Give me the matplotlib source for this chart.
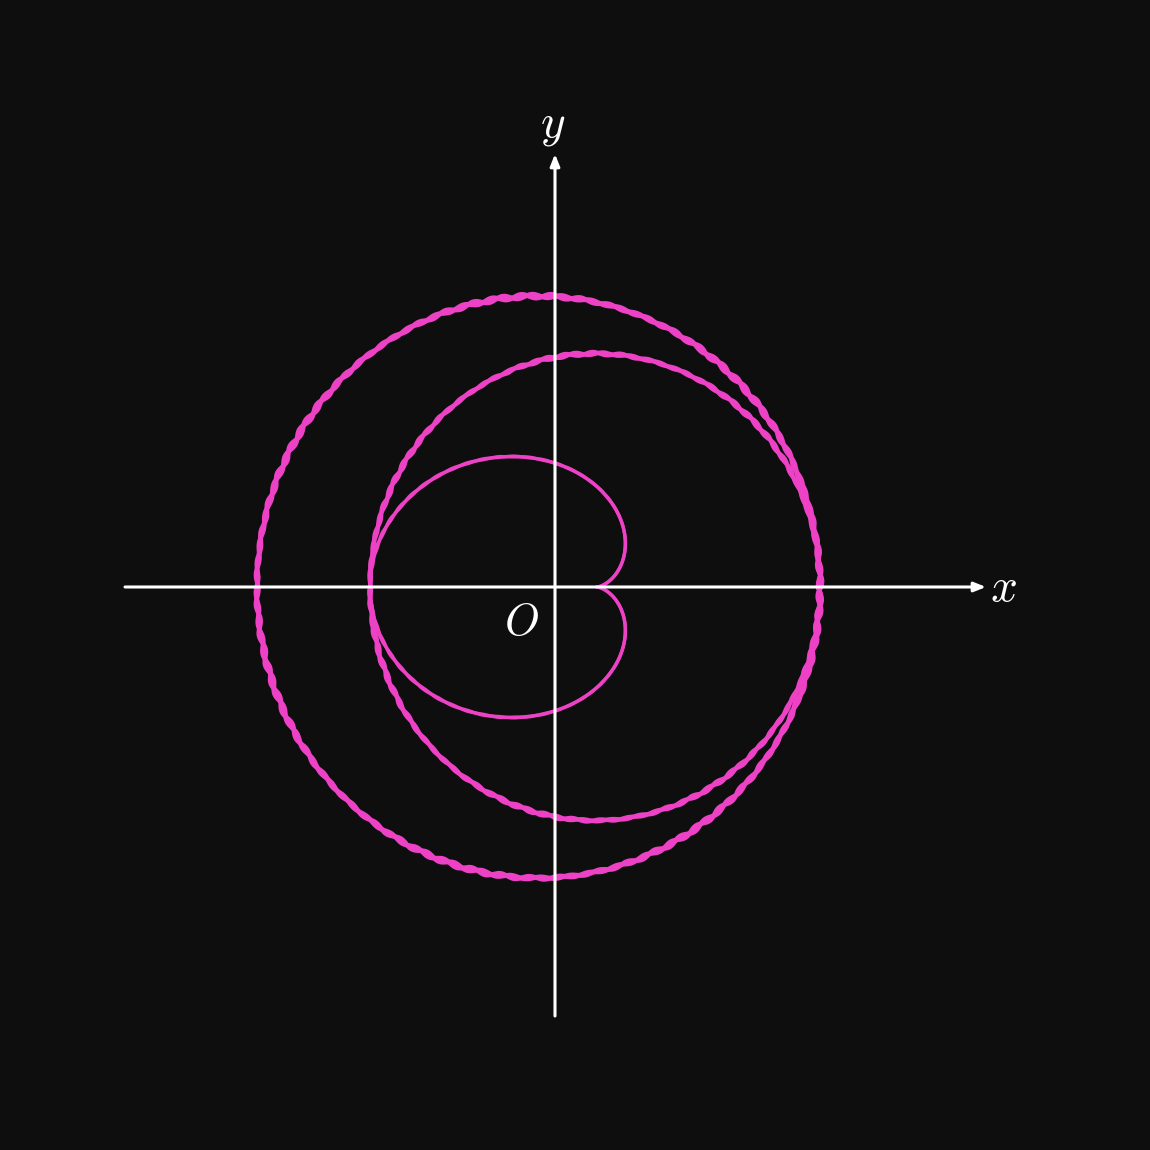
import numpy as np
import matplotlib
matplotlib.use("Agg")
import matplotlib.pyplot as plt

plt.rcParams["mathtext.fontset"] = "cm"

BG = "#0e0e0e"
PINK = "#ee42c6"

# shape parameters (1 unit = 100 px)
heart_cusp_x = 0.42      # cusp of the inner heart
heart_a = 1.135          # cardioid size
heart_yscale = 0.885     # vertical squash
ring_names = ["middle", "outer"]
ring_cx = [0.40, -0.165]
ring_rx = [2.25, 2.815]
ring_ry = [2.335, 2.91]
ring_wobble = [0.0068, 0.0075]
ring_waves = [50, 60]
ring_lw = [3.1, 3.4]

fig = plt.figure(figsize=(11.5, 11.5), dpi=100, facecolor=BG)
ax = fig.add_axes([0, 0, 1, 1])
ax.set_facecolor(BG)
ax.set_xlim(-5.55, 5.95)
ax.set_ylim(-5.63, 5.87)
ax.set_aspect("equal")
ax.axis("off")

# axes with arrow heads
arrow = dict(arrowstyle="-|>,head_length=0.7,head_width=0.28", color="white", lw=2.2,
             shrinkA=0, shrinkB=0)
ax.annotate("", xy=(4.31, 0), xytext=(-4.30, 0), arrowprops=arrow)
ax.annotate("", xy=(0, 4.33), xytext=(0, -4.29), arrowprops=arrow)
ax.text(4.48, -0.01, "$x$", color="white", fontsize=34, ha="center", va="center")
ax.text(-0.02, 4.62, "$y$", color="white", fontsize=34, ha="center", va="center")
ax.text(-0.34, -0.36, "$O$", color="white", fontsize=32, ha="center", va="center")

t = np.linspace(0, 2 * np.pi, 4000)

# inner heart (squashed cardioid), slightly doubled stroke
r = heart_a * (1 - np.cos(t))
for s in (1, -1):
    w = 1 + s * 0.003 * np.sin(40 * t)
    hx = heart_cusp_x + r * w * np.cos(t)
    hy = heart_yscale * r * w * np.sin(t)
    ax.plot(hx, hy, color=PINK, lw=2.4, solid_capstyle="round")

# the two large rings, drawn as two loosely braided strands
for cx, rx, ry, amp, k, lw in zip(ring_cx, ring_rx, ring_ry, ring_wobble, ring_waves, ring_lw):
    for s, ph in ((1, 0.3), (-1, 1.1)):
        wob = np.sin(k * t + ph) * (0.75 + 0.25 * np.cos(7 * t + ph))
        w = 1 + s * amp * wob
        ax.plot(cx + rx * w * np.cos(t), ry * w * np.sin(t), color=PINK, lw=lw)

fig.savefig("out.png", dpi=100, facecolor=BG)
